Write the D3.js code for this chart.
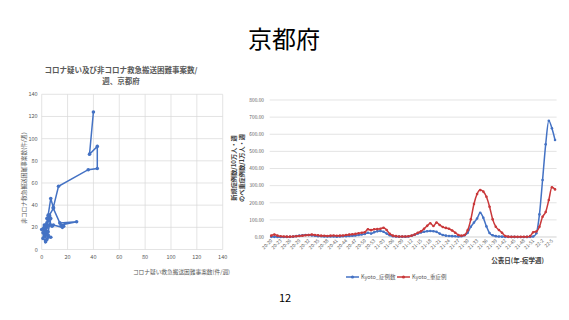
<!DOCTYPE html>
<html><head><meta charset="utf-8">
<script src="https://cdn.jsdelivr.net/npm/d3@7"></script>
<style>
html,body{margin:0;padding:0;background:#fff;}
svg{display:block;font-family:"Noto Sans CJK JP","Noto Sans",sans-serif;}
</style></head>
<body>
<svg id="c" width="569" height="320"></svg>
<script>
// ---------- DATA ----------
const pageTitle = "京都府";
const pageNumber = "12";

// Left chart: connected scatter (x: suspected-corona cases, y: non-corona cases), per week
const scatterX = [0,2,1,2,1,3,3,4,2,3,4,2,3,5,7,5,4,3,4,5,4,6,5,4,3,2,4,5,6,7,6,9,14,27,15,17,16,9,8,6,5,5,7,9,13,36,43,43,37,40];
const scatterY = [18,22,15,12,10,8,7,9,13,17,20,19,14,11,11,13,16,22,24,26,28,30,27,21,18,16,13,16,22,28,31,37,24,25,22,21,20,22,21,26,29,31,46,38,57,72,73,93,86,124];
const leftTicks = [0,20,40,60,80,100,120,140];
const leftTitle = ["コロナ疑い及び非コロナ救急搬送困難事案数/", "週、京都府"];
const leftXTitle = "コロナ疑い救急搬送困難事案数(件/週)";
const leftYTitle = "非コロナ救急搬送困難事案数(件/週)";

// Right chart: weekly series
const weeks = [];
for (let w = 20; w <= 53; w++) weeks.push("20-" + String(w).padStart(2, "0"));
for (let w = 1; w <= 52; w++) weeks.push("21-" + String(w).padStart(2, "0"));
for (let w = 1; w <= 6; w++) weeks.push("22-" + w);
const casesKyoto = [1,1,0.5,0.3,0.3,0.5,1,2,5,8,10,12,11,9,7,5,4,3,3,3,3,2,3,4,5,6,7,9,12,15,18,25,20,28,
  33,35,31,20,10,5,3,2,2,2,3,7,13,20,26,31,34,35,34,30,20,12,8,6,5,4,3,4,10,25,60,84,108,142,112,62,23,10,5,3,2,1,1,0.5,0.5,0.3,0.3,0.3,0.5,1,3,22,
  132,333,541,679,635,566];
const severeKyoto = [8,14,8,4,3,2,2,3,4,6,8,10,12,14,12,10,8,7,6,8,9,7,8,9,12,14,16,18,22,25,28,45,40,45,
  46,48,54,41,18,8,5,3,3,3,4,8,15,25,33,48,65,80,64,84,70,58,53,48,38,25,12,8,12,40,103,193,251,274,265,235,177,103,60,41,25,6,2,1,1,1,1,1,1,5,28,32,
  60,118,146,216,290,278];
const rightYTicks = [0,100,200,300,400,500,600,700,800];
const seriesNames = ["Kyoto_症例数", "Kyoto_重症例"];
const rightYTitle = ["新規症例数/10万人・週", "のべ重症例数/1万人・週"];
const rightXTitle = "公表日(年-疫学週)";

// ---------- DRAW ----------
const svg = d3.select("#c");
const gridCol = "#d9d9d9", txtCol = "#595959";
const blue = "#4472C4", red = "#C9383A";

svg.append("text").attr("x", 284).attr("y", 48).attr("text-anchor", "middle")
  .attr("font-size", 24).attr("fill", "#000").text(pageTitle);
svg.append("text").attr("x", 285).attr("y", 302).attr("text-anchor", "middle")
  .attr("font-size", 11).attr("fill", "#000").text(pageNumber);

// Left chart
const lx = d3.scaleLinear().domain([0,140]).range([41.7, 222.7]);
const ly = d3.scaleLinear().domain([0,140]).range([249.5, 94.3]);
const L = svg.append("g");
L.selectAll("line.gx").data(leftTicks).join("line")
  .attr("x1", d => lx(d)).attr("x2", d => lx(d)).attr("y1", ly(0)).attr("y2", ly(140))
  .attr("stroke", gridCol).attr("stroke-width", 0.7);
L.selectAll("line.gy").data(leftTicks).join("line").attr("class","gy")
  .attr("x1", lx(0)).attr("x2", lx(140)).attr("y1", d => ly(d)).attr("y2", d => ly(d))
  .attr("stroke", gridCol).attr("stroke-width", 0.7);
L.selectAll("text.tx").data(leftTicks).join("text").attr("class","tx")
  .attr("x", d => lx(d)).attr("y", ly(0) + 9).attr("text-anchor", "middle")
  .attr("font-size", 5.5).attr("fill", txtCol).text(d => d);
L.selectAll("text.ty").data(leftTicks).join("text").attr("class","ty")
  .attr("x", lx(0) - 4).attr("y", d => ly(d) + 2).attr("text-anchor", "end")
  .attr("font-size", 5.5).attr("fill", txtCol).text(d => d);
L.selectAll("text.tt").data(leftTitle).join("text").attr("class","tt")
  .attr("x", 121).attr("y", (d,i) => 73 + i * 11).attr("text-anchor", "middle")
  .attr("font-size", 7.5).attr("font-weight", "bold").attr("fill", txtCol).text(d => d);
L.append("text").attr("x", 230).attr("y", 274).attr("text-anchor", "end")
  .attr("font-size", 5.7).attr("fill", txtCol).text(leftXTitle);
L.append("text").attr("transform", "translate(26,178) rotate(-90)").attr("text-anchor", "middle")
  .attr("font-size", 5.7).attr("fill", txtCol).text(leftYTitle);
const pts = scatterX.map((x, i) => [x, scatterY[i]]);
L.append("path").attr("d", d3.line().x(d => lx(d[0])).y(d => ly(d[1]))(pts))
  .attr("fill", "none").attr("stroke", blue).attr("stroke-width", 1.5);
L.selectAll("circle").data(pts).join("circle")
  .attr("cx", d => lx(d[0])).attr("cy", d => ly(d[1])).attr("r", 1.8).attr("fill", blue);

// Right chart
const rx = d3.scaleBand().domain(weeks).range([269.7, 556.6]);
const cx = d => rx(d) + rx.bandwidth() / 2;
const ry = d3.scaleLinear().domain([0,800]).range([237, 100]);
const R = svg.append("g");
R.selectAll("line.g").data(rightYTicks).join("line")
  .attr("x1", 269.7).attr("x2", 556.6).attr("y1", d => ry(d)).attr("y2", d => ry(d))
  .attr("stroke", d => d === 0 ? "#bfbfbf" : gridCol).attr("stroke-width", 0.7);
R.selectAll("text.ty").data(rightYTicks).join("text").attr("class","ty")
  .attr("x", 264).attr("y", d => ry(d) + 1.8).attr("text-anchor", "end")
  .attr("font-size", 4.8).attr("fill", txtCol).text(d => d.toFixed(2));
const tickWeeks = weeks.filter((w, i) => i % 3 === 0);
R.selectAll("text.tx").data(tickWeeks).join("text").attr("class","tx")
  .attr("transform", d => `translate(${cx(d) + 1.5},${ry(0) + 4}) rotate(-45)`)
  .attr("text-anchor", "end").attr("font-size", 4.8).attr("fill", txtCol).text(d => d);
R.selectAll("text.yt").data(rightYTitle).join("text").attr("class","yt")
  .attr("transform", (d,i) => `translate(${236 + i * 7.5},168) rotate(-90)`)
  .attr("text-anchor", "middle").attr("font-size", 6.2).attr("font-weight", "bold")
  .attr("fill", "#404040").text(d => d);
R.append("text").attr("x", 544).attr("y", 263).attr("text-anchor", "end")
  .attr("font-size", 6.5).attr("font-weight", "bold").attr("fill", "#404040").text(rightXTitle);

const series = [
  {name: seriesNames[0], vals: casesKyoto, col: blue},
  {name: seriesNames[1], vals: severeKyoto, col: red}
];
series.forEach(s => {
  const data = weeks.map((w, i) => [w, s.vals[i]]);
  R.append("path").attr("d", d3.line().x(d => cx(d[0])).y(d => ry(d[1])).curve(d3.curveMonotoneX)(data))
    .attr("fill", "none").attr("stroke", s.col).attr("stroke-width", 1.5);
  R.append("g").selectAll("circle").data(data).join("circle")
    .attr("cx", d => cx(d[0])).attr("cy", d => ry(d[1])).attr("r", 1.3).attr("fill", s.col);
});

// Legend
const leg = R.append("g");
series.forEach((s, i) => {
  const x0 = 346 + i * 51, y0 = 277;
  leg.append("line").attr("x1", x0).attr("x2", x0 + 13).attr("y1", y0).attr("y2", y0)
    .attr("stroke", s.col).attr("stroke-width", 1.5);
  leg.append("circle").attr("cx", x0 + 6.5).attr("cy", y0).attr("r", 1.6).attr("fill", s.col);
  leg.append("text").attr("x", x0 + 15).attr("y", y0 + 2).attr("font-size", 5.5)
    .attr("fill", txtCol).text(s.name);
});
</script>
</body></html>
